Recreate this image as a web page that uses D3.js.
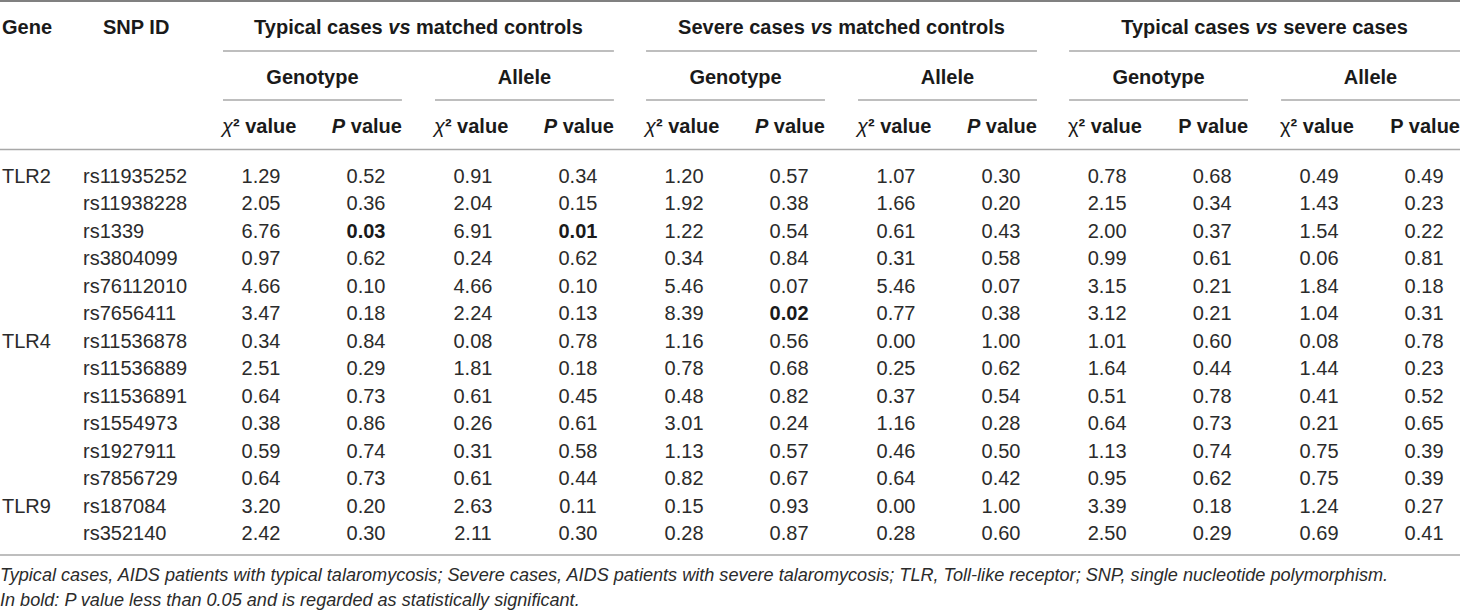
<!DOCTYPE html>
<html>
<head>
<meta charset="utf-8">
<script src="https://cdn.jsdelivr.net/npm/d3@7"></script>
<style>
  html, body { margin: 0; padding: 0; background: #fff; }
  svg { display: block; }
  text { font-family: "Liberation Sans", Arial, sans-serif; }
</style>
</head>
<body>
<svg id="chart" width="1460" height="613"></svg>
<script>
// ---- data ----
const genes = ["TLR2","TLR2","TLR2","TLR2","TLR2","TLR2","TLR4","TLR4","TLR4","TLR4","TLR4","TLR4","TLR9","TLR9"];
const snps = ["rs11935252","rs11938228","rs1339","rs3804099","rs76112010","rs7656411","rs11536878","rs11536889","rs11536891","rs1554973","rs1927911","rs7856729","rs187084","rs352140"];
const comparisons = ["Typical cases vs matched controls","Severe cases vs matched controls","Typical cases vs severe cases"];
const subgroups = ["Genotype","Allele"];
const statLabels = ["χ² value","P value"];

// Typical cases vs matched controls
const typCtrlGenoChi = ["1.29","2.05","6.76","0.97","4.66","3.47","0.34","2.51","0.64","0.38","0.59","0.64","3.20","2.42"];
const typCtrlGenoP   = ["0.52","0.36","0.03","0.62","0.10","0.18","0.84","0.29","0.73","0.86","0.74","0.73","0.20","0.30"];
const typCtrlAlleChi = ["0.91","2.04","6.91","0.24","4.66","2.24","0.08","1.81","0.61","0.26","0.31","0.61","2.63","2.11"];
const typCtrlAlleP   = ["0.34","0.15","0.01","0.62","0.10","0.13","0.78","0.18","0.45","0.61","0.58","0.44","0.11","0.30"];
// Severe cases vs matched controls
const sevCtrlGenoChi = ["1.20","1.92","1.22","0.34","5.46","8.39","1.16","0.78","0.48","3.01","1.13","0.82","0.15","0.28"];
const sevCtrlGenoP   = ["0.57","0.38","0.54","0.84","0.07","0.02","0.56","0.68","0.82","0.24","0.57","0.67","0.93","0.87"];
const sevCtrlAlleChi = ["1.07","1.66","0.61","0.31","5.46","0.77","0.00","0.25","0.37","1.16","0.46","0.64","0.00","0.28"];
const sevCtrlAlleP   = ["0.30","0.20","0.43","0.58","0.07","0.38","1.00","0.62","0.54","0.28","0.50","0.42","1.00","0.60"];
// Typical cases vs severe cases
const typSevGenoChi  = ["0.78","2.15","2.00","0.99","3.15","3.12","1.01","1.64","0.51","0.64","1.13","0.95","3.39","2.50"];
const typSevGenoP    = ["0.68","0.34","0.37","0.61","0.21","0.21","0.60","0.44","0.78","0.73","0.74","0.62","0.18","0.29"];
const typSevAlleChi  = ["0.49","1.43","1.54","0.06","1.84","1.04","0.08","1.44","0.41","0.21","0.75","0.75","1.24","0.69"];
const typSevAlleP    = ["0.49","0.23","0.22","0.81","0.18","0.31","0.78","0.23","0.52","0.65","0.39","0.39","0.27","0.41"];

const footnotes = [
  "Typical cases, AIDS patients with typical talaromycosis; Severe cases, AIDS patients with severe talaromycosis; TLR, Toll-like receptor; SNP, single nucleotide polymorphism.",
  "In bold: P value less than 0.05 and is regarded as statistically significant."
];

// table built from arrays
const columns = [
  [typCtrlGenoChi, typCtrlGenoP, typCtrlAlleChi, typCtrlAlleP],
  [sevCtrlGenoChi, sevCtrlGenoP, sevCtrlAlleChi, sevCtrlAlleP],
  [typSevGenoChi, typSevGenoP, typSevAlleChi, typSevAlleP]
];

// ---- layout ----
const W = 1460;
const svg = d3.select("#chart");
const headColor = "#1a1a1a", bodyColor = "#2b2b2b", ruleColor = "#a8a8a8";

const xGroup = d3.scaleBand().domain(d3.range(3)).range([223, 1460]).paddingInner(0.076).paddingOuter(0);
const xSub = d3.scaleBand().domain(subgroups).range([0, xGroup.bandwidth()]).paddingInner(0.156).paddingOuter(0);
const xStat = d3.scaleOrdinal().domain(statLabels).range([38, 143]); // centre offsets inside a subgroup
const yRow = d3.scalePoint().domain(d3.range(snps.length)).range([176, 533]);

const headY = [27, 77, 126];
const ruleY = { top: 1, g: 51, s: 100, head: 149.5, bottom: 555 };

// rules
svg.append("line").attr("x1", 0).attr("x2", W).attr("y1", ruleY.top).attr("y2", ruleY.top)
  .attr("stroke", "#808080").attr("stroke-width", 2);
svg.append("line").attr("x1", 0).attr("x2", W).attr("y1", ruleY.head).attr("y2", ruleY.head)
  .attr("stroke", ruleColor).attr("stroke-width", 1.5);
svg.append("line").attr("x1", 0).attr("x2", W).attr("y1", ruleY.bottom).attr("y2", ruleY.bottom)
  .attr("stroke", ruleColor).attr("stroke-width", 1.5);

// left headers
const hdr = svg.append("g").attr("font-weight", "bold").attr("font-size", 20).attr("fill", headColor);
hdr.append("text").attr("x", 2).attr("y", headY[0] + 7).text("Gene");
hdr.append("text").attr("x", 103).attr("y", headY[0] + 7).text("SNP ID");

// comparison headers
comparisons.forEach((c, gi) => {
  const gx = xGroup(gi);
  const parts = c.split(" vs ");
  const t = hdr.append("text").attr("x", gx + xGroup.bandwidth() / 2).attr("y", headY[0] + 7).attr("text-anchor", "middle");
  t.append("tspan").text(parts[0] + " ");
  t.append("tspan").attr("font-style", "italic").text("vs");
  t.append("tspan").text(" " + parts[1]);
  svg.append("line").attr("x1", gx).attr("x2", gx + xGroup.bandwidth())
    .attr("y1", ruleY.g).attr("y2", ruleY.g).attr("stroke", ruleColor).attr("stroke-width", 1.5);

  subgroups.forEach(s => {
    const sx = gx + xSub(s);
    hdr.append("text").attr("x", sx + xSub.bandwidth() / 2).attr("y", headY[1] + 7)
      .attr("text-anchor", "middle").text(s);
    svg.append("line").attr("x1", sx).attr("x2", sx + xSub.bandwidth())
      .attr("y1", ruleY.s).attr("y2", ruleY.s).attr("stroke", ruleColor).attr("stroke-width", 1.5);
    const ital = gi < 2 ? "italic" : "normal";
    const t1 = hdr.append("text").attr("x", sx - 1).attr("y", headY[2] + 7);
    t1.append("tspan").attr("font-style", ital).attr("font-weight", "normal").text("χ");
    t1.append("tspan").text("² value");
    const t2 = hdr.append("text").attr("x", sx + xSub.bandwidth()).attr("y", headY[2] + 7).attr("text-anchor", "end");
    t2.append("tspan").attr("font-style", ital).text("P");
    t2.append("tspan").text(" value");
  });
});

// body
const body = svg.append("g").attr("font-size", 20).attr("fill", bodyColor);
body.selectAll("text.gene").data(genes.map((g, i) => ({ g, i })).filter(d => d.i === 0 || genes[d.i - 1] !== d.g))
  .join("text").attr("class", "gene").attr("x", 2).attr("y", d => yRow(d.i) + 7).text(d => d.g);
body.selectAll("text.snp").data(snps).join("text").attr("class", "snp")
  .attr("x", 83).attr("y", (d, i) => yRow(i) + 7).text(d => d);

const cells = [];
columns.forEach((grp, gi) => {
  grp.forEach((col, ci) => {
    const sub = subgroups[Math.floor(ci / 2)];
    const stat = statLabels[ci % 2];
    col.forEach((v, ri) => cells.push({
      v, ri, x: xGroup(gi) + xSub(sub) + xStat(stat),
      bold: stat === "P value" && +v < 0.05
    }));
  });
});
body.selectAll("text.cell").data(cells).join("text").attr("class", "cell")
  .attr("x", d => d.x).attr("y", d => yRow(d.ri) + 7).attr("text-anchor", "middle")
  .attr("font-weight", d => d.bold ? "bold" : "normal")
  .attr("fill", d => d.bold ? headColor : bodyColor)
  .text(d => d.v);

// footnotes
svg.append("g").attr("font-size", 18.1).attr("font-style", "italic").attr("fill", bodyColor)
  .selectAll("text").data(footnotes).join("text")
  .attr("x", 0).attr("y", (d, i) => 581 + i * 24.5).text(d => d);
</script>
</body>
</html>
